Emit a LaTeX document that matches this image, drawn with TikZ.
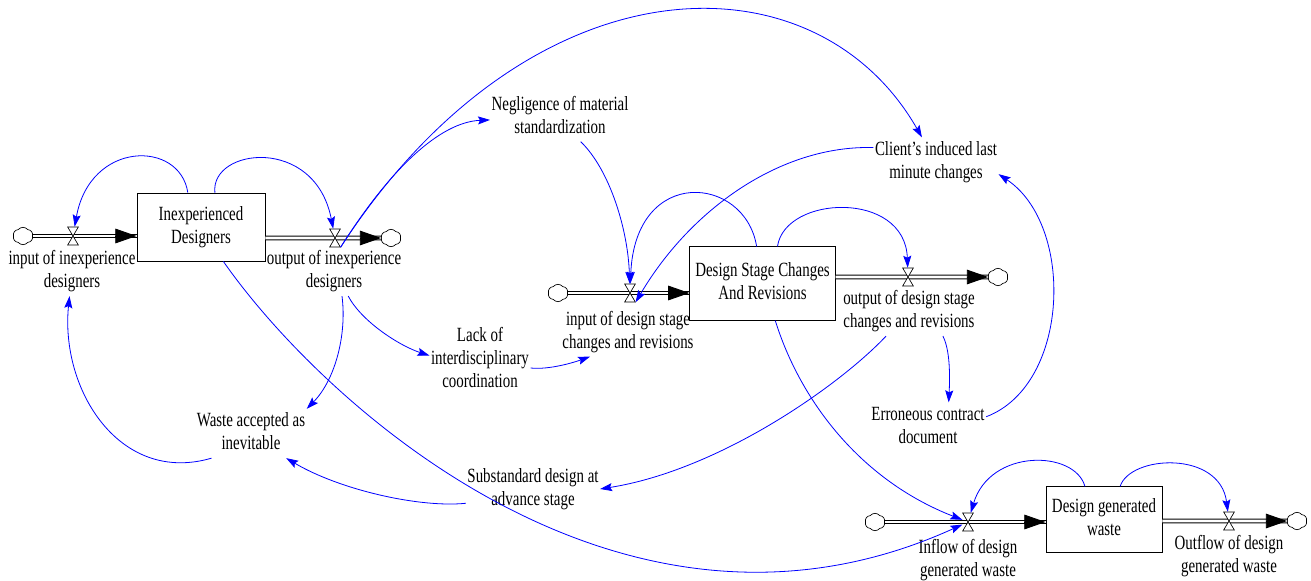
\documentclass[tikz,border=0pt]{standalone}
\usepackage{fontspec}
\setmainfont{Liberation Serif}
\usepackage{graphicx}
\usetikzlibrary{arrows.meta,shapes.symbols}

% tall, narrow multi-line label text
\newcommand{\lbl}[1]{\scalebox{1}[1.35]{\begin{tabular}{@{}c@{}}#1\end{tabular}}}
% hourglass valve drawn on a named valve node
\newcommand{\valveshape}[1]{%
  \draw[black, fill=white, line width=0.5pt]
    ([xshift=-4pt,yshift=6.75pt]#1.center) -- ([xshift=4pt,yshift=6.75pt]#1.center)
    -- ([xshift=-4pt,yshift=-6.75pt]#1.center) -- ([xshift=4pt,yshift=-6.75pt]#1.center) -- cycle;}

\begin{document}
\begin{tikzpicture}[x=0.75pt,y=-0.75pt,
  every node/.append style={font=\fontsize{11.2}{12.8}\selectfont},
  stock/.style={draw=black, fill=white, line width=0.6pt, rectangle, inner sep=0pt},
  word/.style={inner sep=1pt},
  cloudy/.style={cloud, draw=black, fill=white, cloud puffs=6, cloud puff arc=100,
    minimum width=15pt, minimum height=13pt, inner sep=0pt, line width=0.5pt},
  valvept/.style={inner sep=0pt, minimum width=8pt, minimum height=13.5pt},
  pipe/.style={draw=black, double=white, double distance=2.2pt, line width=0.7pt},
  pipetip/.style={draw=black, line width=0.7pt, -{Triangle[length=16pt,width=11pt]}},
  link/.style={draw=blue, line width=0.6pt, -{Stealth[length=9pt,width=6pt,inset=1.5pt]}},
]
\fill[white] (0,0) rectangle (1311,581);
\useasboundingbox (0,0) rectangle (1311,581);

% ---------- stocks ----------
\node[stock, minimum width=96pt, minimum height=51pt] (s1) at (201,227) {\lbl{Inexperienced\\Designers}};
\node[stock, minimum width=109pt, minimum height=55pt] (s2) at (762.5,283.5) {\lbl{Design Stage Changes\\And Revisions}};
\node[stock, minimum width=87pt, minimum height=49pt] (s3) at (1104,519.5) {\lbl{Design generated\\waste}};

% ---------- clouds and valves ----------
\node[cloudy] (c1) at (23,236) {};
\node[cloudy] (c2) at (391,238) {};
\node[cloudy] (c3) at (558,293) {};
\node[cloudy] (c4) at (998,277) {};
\node[cloudy] (c5) at (875,522) {};
\node[cloudy] (c6) at (1297,521) {};

\node[valvept] (v1) at (73,236) {};
\node[valvept] (v2) at (335,238) {};
\node[valvept] (v3) at (630,293) {};
\node[valvept] (v4) at (908,277) {};
\node[valvept] (v5) at (968,522) {};
\node[valvept] (v6) at (1229,521) {};

% ---------- pipes ----------
\draw[pipe] (c1.east) -- (c1.east -| s1.west);
\draw[pipetip] ([xshift=-16pt]c1.east -| s1.west) -- (c1.east -| s1.west);
\draw[pipe] (s1.east |- c2) -- (c2.west);
\draw[pipetip] ([xshift=-16pt]c2.west) -- (c2.west);
\draw[pipe] (c3.east) -- (c3.east -| s2.west);
\draw[pipetip] ([xshift=-16pt]c3.east -| s2.west) -- (c3.east -| s2.west);
\draw[pipe] (s2.east |- c4) -- (c4.west);
\draw[pipetip] ([xshift=-16pt]c4.west) -- (c4.west);
\draw[pipe] (c5.east) -- (c5.east -| s3.west);
\draw[pipetip] ([xshift=-16pt]c5.east -| s3.west) -- (c5.east -| s3.west);
\draw[pipe] (s3.east |- c6) -- (c6.west);
\draw[pipetip] ([xshift=-16pt]c6.west) -- (c6.west);

\valveshape{v1}
\valveshape{v2}
\valveshape{v3}
\valveshape{v4}
\valveshape{v5}
\valveshape{v6}

% ---------- flow labels ----------
\node[word] (L1) at (72,271.5) {\lbl{input of inexperience\\designers}};
\node[word] (L2) at (334,271.5) {\lbl{output of inexperience\\designers}};
\node[word] (L3) at (628,332) {\lbl{input of design stage\\changes and revisions}};
\node[word] (L4) at (909,311.5) {\lbl{output of design stage\\changes and revisions}};
\node[word] (L5) at (968,560) {\lbl{Inflow of design\\generated waste}};
\node[word] (L6) at (1229,556.5) {\lbl{Outflow of design\\generated waste}};

% ---------- auxiliaries ----------
\node[word] (aneg) at (560,117) {\lbl{Negligence of material\\standardization}};
\node[word] (aclient) at (936,162) {\lbl{Client's induced last\\minute changes}};
\node[word] (alack) at (480,360) {\lbl{Lack of\\interdisciplinary\\coordination}};
\node[word] (awaste) at (251,433.5) {\lbl{Waste accepted as\\inevitable}};
\node[word] (asub) at (533,489) {\lbl{Substandard design at\\advance stage}};
\node[word] (aerr) at (928,427) {\lbl{Erroneous contract\\document}};

% ---------- causal links ----------
\draw[link] (s1.111) .. controls (180,140) and (90,140) .. (v1);
\draw[link] (s1.68) .. controls (210,148) and (315,135) .. (v2);
\draw[link] (v2.south east) .. controls (390,169) and (440,122) .. (aneg);
\draw[link] (v2.south east) .. controls (530,-45) and (815,-50) .. (aclient);
\draw[link] (L2.-60) .. controls (362,322) and (400,346) .. (alack.175);
\draw[link] (L2.-72) .. controls (347,335) and (335,380) .. (awaste.north east);
\draw[link] (awaste.212) .. controls (120,485) and (60,390) .. (L1);
\draw[link] (asub.192) .. controls (420,508) and (340,490) .. (awaste.-35);
\draw[link] (L4.-133) .. controls (840,385) and (720,470) .. (asub.east);
\draw[link] (L4.-36) .. controls (950,350) and (950,375) .. (aerr.50);
\draw[link] (aerr.10) .. controls (1070,385) and (1075,225) .. (aclient.-11);
\draw[link] (aclient.167) .. controls (780,145) and (690,210) .. (v3.south east);
\draw[link] (aneg.-50) .. controls (610,170) and (628,230) .. (v3);
\draw[link] (s2.99) .. controls (745,175) and (635,165) .. (v3);
\draw[link] (s2.68) .. controls (785,195) and (905,190) .. (v4);
\draw[link] (alack.-9) .. controls (550,370) and (575,362) .. (L3.213);
\draw[link] (s2.-71) .. controls (800,400) and (860,480) .. (v5);
\draw[link] (s1.-57) .. controls (320,400) and (620,680) .. (v5);
\draw[link] (s3.120) .. controls (1075,450) and (990,448) .. (v5);
\draw[link] (s3.64) .. controls (1130,455) and (1220,450) .. (v6);
\end{tikzpicture}
\end{document}
